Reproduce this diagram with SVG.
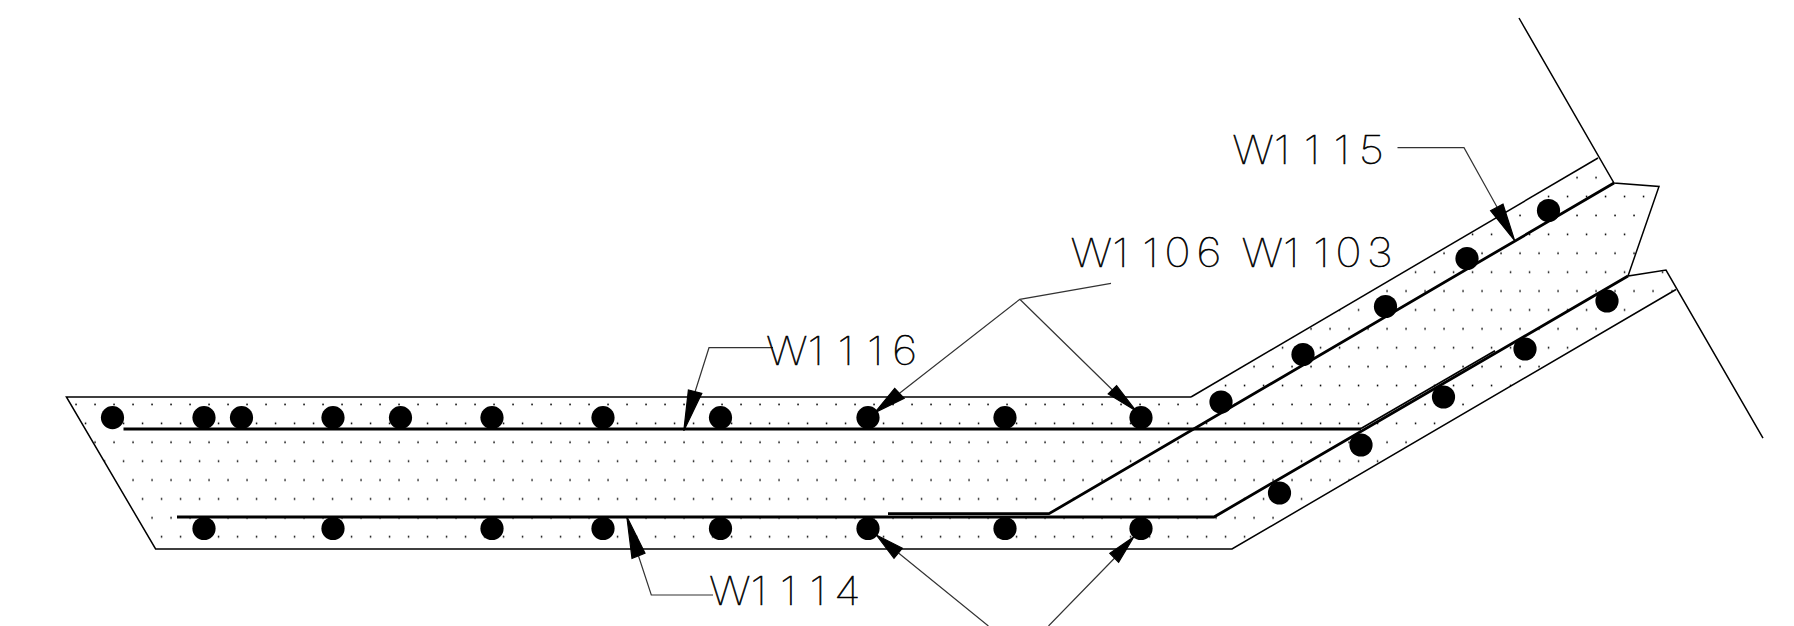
<svg xmlns="http://www.w3.org/2000/svg" width="1794" height="626" viewBox="0 0 1794 626">
<style>
.o{fill:none;stroke:#000;stroke-width:1.5;stroke-linejoin:miter}
.bar{fill:none;stroke:#000;stroke-width:2.8}
.thin{fill:none;stroke:#000;stroke-width:1.7}
.lead{fill:none;stroke:#333;stroke-width:1.2}
.tip{fill:#000;stroke:#000;stroke-width:1.2}
.reb{fill:#000}
.t{font-family:"Inter","Liberation Sans",sans-serif;font-weight:100;font-size:40px;fill:#000;stroke:#000;stroke-width:.55}
</style>
<defs>
<pattern id="dots" patternUnits="userSpaceOnUse" x="109" y="400" width="19" height="37.8">
<rect x="4.3" y="3.6" width="1.5" height="1.7" fill="#000"/>
<rect x="13.8" y="22.5" width="1.5" height="1.7" fill="#000"/>
</pattern>
<circle id="r" r="11.6" class="reb"/>
</defs>
<rect width="1794" height="626" fill="#fff"/>
<path id="hatch" d="M66.4 397 155.6 549 1232 549 1676 289.5 1666 270 1628 276 1659 186.5 1614 183 1598 158 1191 397Z" fill="url(#dots)"/>
<g id="outline">
<path class="o" d="M1191 397H66.4L155.6 549H1232L1676 289.5"/>
<path class="o" d="M1191 397 1598 158"/>
<path class="o" d="M1519 18 1614 183 1659 186.5 1628 276 1666 270 1763 438"/>
</g>
<g id="bars">
<path class="bar" d="M123.5 429H1361"/>
<path class="thin" d="M1361 428.600 1495 350.700"/>
<path class="bar" d="M888 513.7H1049L1614 183"/>
<path class="bar" d="M177 517H1214L1628 276"/>
</g>
<g id="rebars">
<use href="#r" x="112.500" y="417.6"/><use href="#r" x="204" y="417.6"/><use href="#r" x="241.500" y="417.6"/><use href="#r" x="333" y="417.6"/><use href="#r" x="400.500" y="417.6"/><use href="#r" x="492" y="417.6"/><use href="#r" x="603" y="417.6"/><use href="#r" x="720.500" y="417.6"/><use href="#r" x="868" y="417.6"/><use href="#r" x="1005" y="417.6"/><use href="#r" x="1141" y="417.6"/>
<use href="#r" x="204" y="528.5"/><use href="#r" x="333" y="528.5"/><use href="#r" x="492" y="528.5"/><use href="#r" x="603" y="528.5"/><use href="#r" x="720.500" y="528.5"/><use href="#r" x="868" y="528.5"/><use href="#r" x="1005" y="528.5"/><use href="#r" x="1141" y="528.5"/>
<use href="#r" x="1221" y="402"/><use href="#r" x="1303" y="354.500"/><use href="#r" x="1385.500" y="306.500"/><use href="#r" x="1467" y="258.500"/><use href="#r" x="1548.500" y="210.500"/>
<use href="#r" x="1279.500" y="493"/><use href="#r" x="1361" y="445"/><use href="#r" x="1443.500" y="397"/><use href="#r" x="1525" y="349"/><use href="#r" x="1607" y="301"/>
</g>
<g id="connectors">
<path class="lead" d="M1397.500 147.700H1464L1497 207"/>
<path class="tip" d="M1514.700 240.700 1490.600 210.700 1503 204Z"/>
<path class="lead" d="M773 347.700H709L695 392"/>
<path class="tip" d="M683.800 430.700 688.400 390 701.800 393.300Z"/>
<path class="lead" d="M713 595H651.300L638.500 556"/>
<path class="tip" d="M626.800 516.500 632 558.300 645 553.300Z"/>
<path class="lead" d="M1111 283.300 1019.800 299.300 899.500 393.300M1019.800 299.300 1112.500 390"/>
<path class="tip" d="M874.800 412.700 894.700 388.300 904.200 398.300Z"/>
<path class="tip" d="M1135.800 410.700 1116.600 385.700 1108.200 394Z"/>
<path class="lead" d="M898.500 553 988.400 626M1114.700 558 1048.500 626"/>
<path class="tip" d="M876.300 535 902.300 548.300 894 558.300Z"/>
<path class="tip" d="M1133.900 536.700 1109.800 553.300 1118.600 562.300Z"/>
</g>
<g id="W1115"><text class="t" transform="translate(1232.300 164) scale(1.12 1)" x="0 37 63.900 90.400 113" y="0">W1115</text></g>
<g id="W1106"><text class="t" transform="translate(1070.500 267) scale(1.12 1)" x="0 37.300 64.100 83.700 112.200" y="0">W1106</text></g>
<g id="W1103"><text class="t" transform="translate(1241.500 267) scale(1.12 1)" x="0 37 64.100 83.700 111.800" y="0">W1103</text></g>
<g id="W1116"><text class="t" transform="translate(766 365) scale(1.12 1)" x="0 37.100 63.900 90.300 112.400" y="0">W1116</text></g>
<g id="W1114"><text class="t" transform="translate(709 605) scale(1.12 1)" x="0 37 63.300 89.800 111.500" y="0">W1114</text></g>
</svg>
